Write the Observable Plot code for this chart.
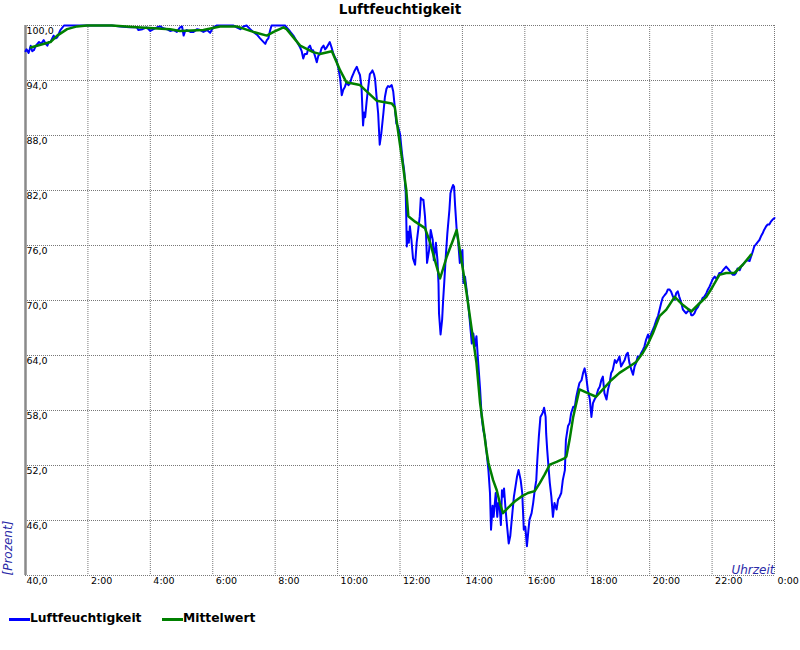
<!DOCTYPE html>
<html>
<head>
<meta charset="utf-8">
<script src="https://cdn.jsdelivr.net/npm/d3@7"></script>
<script src="https://cdn.jsdelivr.net/npm/@observablehq/plot@0.6"></script>
<style>
  html, body { margin: 0; padding: 0; background: #fff; }
  #wrap { position: relative; width: 800px; height: 650px; font-family: "DejaVu Sans", sans-serif; }
  #title { height: 18px; line-height: 18px; text-align: center; font-weight: bold; font-size: 13.5px; color: #000; }
  #chart svg { display: block; }
  .lg-sw { position: absolute; height: 3px; width: 21px; }
  .lg-tx { position: absolute; font-weight: bold; font-size: 12.3px; line-height: 14px; color: #000; white-space: nowrap; }
</style>
</head>
<body>
<div id="wrap">
  <div id="title">Luftfeuchtigkeit</div>
  <div id="chart"></div>
  <div id="legend"></div>
</div>
<script>
// ---- Data (minutes since midnight, relative humidity %) ----
const blueMinutes = [0,2,6,10,13,16,20,26,30,35,39,42,45,48,54,58,61,67,74,120,166,182,200,214,217,225,233,240,246,253,259,265,272,278,285,291,297,301,304,307,310,317,323,330,336,342,349,355,361,368,400,406,413,419,425,432,438,445,451,456,461,464,467,470,473,499,502,508,515,521,528,531,534,537,541,544,547,550,553,557,560,563,566,569,573,576,579,582,585,589,592,595,598,602,605,608,611,614,617,621,624,627,630,633,637,640,643,646,649,651,653,656,659,662,665,667,670,672,675,678,681,684,688,691,694,697,700,704,707,710,713,716,720,723,726,728,730,731,732,733,735,737,739,742,745,749,752,755,758,760,763,765,768,770,772,776,779,783,785,789,792,794,795,798,801,803,805,808,811,815,817,820,822,824,826,829,832,835,838,840,842,845,848,851,854,858,861,864,867,870,874,877,880,883,886,890,893,895,898,900,904,907,909,912,914,916,918,920,923,926,929,932,936,939,942,945,948,952,955,958,961,964,967,969,973,976,979,982,984,987,990,994,997,1000,1001,1003,1006,1008,1011,1014,1017,1021,1024,1027,1030,1033,1037,1039,1043,1046,1049,1053,1056,1059,1062,1065,1069,1072,1075,1078,1081,1085,1088,1091,1094,1097,1101,1104,1107,1110,1113,1117,1120,1123,1126,1129,1133,1136,1139,1142,1145,1149,1152,1155,1158,1161,1165,1168,1171,1174,1177,1181,1184,1187,1190,1193,1197,1200,1203,1206,1209,1213,1216,1219,1222,1225,1229,1232,1235,1238,1241,1245,1248,1251,1254,1257,1261,1264,1267,1270,1273,1277,1280,1283,1286,1289,1293,1296,1299,1302,1305,1309,1312,1315,1318,1321,1325,1328,1331,1334,1337,1341,1344,1347,1350,1353,1357,1360,1363,1366,1369,1373,1376,1379,1382,1385,1388,1392,1395,1398,1401,1404,1408,1411,1414,1417,1420,1424,1427,1430,1433,1436,1440];
const blueValues = [97.2,97.4,97.0,97.8,97.2,97.3,97.8,98.2,98.0,98.4,98.0,97.8,98.2,98.2,98.9,98.6,98.7,99.5,100.0,100.0,100.0,99.9,99.8,99.8,99.5,99.6,99.8,99.4,99.6,99.8,99.9,99.7,99.6,99.4,99.5,99.3,99.8,99.9,98.9,99.4,99.5,99.3,99.3,99.6,99.5,99.3,99.5,99.2,99.8,100.0,100.0,99.8,99.6,99.9,100.0,99.6,99.3,99.0,98.6,98.3,98.0,98.4,98.6,99.4,100.0,100.0,99.8,99.4,98.9,98.3,97.6,97.2,96.4,96.9,96.9,97.6,97.8,97.3,97.3,96.6,96.0,96.7,96.9,97.5,97.8,97.4,97.6,97.9,98.2,97.5,96.9,96.5,96.2,95.2,94.2,92.4,93.0,93.3,93.8,93.5,93.7,94.3,94.7,95.1,95.5,95.0,94.6,93.3,89.1,90.5,90.0,91.8,93.3,94.7,94.9,95.1,94.7,94.2,92.2,90.4,87.0,88.2,90.4,92.2,93.1,93.4,93.3,93.5,92.8,91.1,89.3,89.0,88.2,86.5,85.0,84.2,82.5,81.7,79.2,75.9,77.5,76.3,78.1,76.6,74.6,73.9,76.3,77.7,79.2,81.2,81.0,81.0,79.2,77.3,74.1,75.5,77.7,76.6,74.4,76.3,74.4,71.9,68.6,66.3,67.9,70.1,71.9,74.8,77.3,79.9,81.7,82.3,82.6,82.4,80.3,77.7,76.3,74.1,75.0,75.5,71.9,72.6,71.2,69.7,67.9,65.3,66.4,65.0,66.1,63.5,60.3,57.3,55.9,55.2,53.7,51.5,49.0,45.0,47.6,46.4,49.0,46.4,47.9,47.2,45.5,49.3,48.6,49.5,47.2,45.3,43.5,44.3,46.8,48.6,49.7,50.8,51.5,50.4,49.0,45.0,45.3,43.2,45.0,46.1,46.8,47.9,49.3,50.4,52.6,55.2,57.3,57.7,58.3,57.3,55.5,53.7,51.5,50.1,48.6,46.4,47.9,47.2,48.3,48.6,49.0,50.4,51.5,54.8,56.3,56.6,57.7,58.4,58.4,59.5,60.3,61.0,61.3,62.1,62.6,61.7,60.3,59.2,57.3,58.8,59.2,59.5,60.3,60.6,61.3,61.7,59.9,59.2,60.3,61.0,62.1,62.4,63.5,63.2,63.5,63.9,62.8,63.2,63.5,64.1,64.3,63.2,62.4,61.9,62.8,63.2,63.9,63.9,64.3,64.6,65.0,65.7,66.3,65.7,66.4,66.8,67.2,67.9,68.3,69.0,69.7,70.3,70.6,70.8,71.2,71.2,71.0,70.4,70.1,70.8,71.0,70.4,69.7,69.0,68.8,68.6,68.8,69.0,68.4,68.4,68.6,69.0,69.3,69.7,69.9,70.3,70.4,70.8,71.2,71.5,71.9,72.3,72.6,72.4,72.6,73.0,73.0,73.3,73.5,73.7,73.5,73.3,73.0,72.8,72.8,73.0,73.5,73.3,73.7,73.9,74.1,74.3,74.4,74.3,74.8,75.3,75.9,76.1,76.4,76.6,77.0,77.3,77.7,78.1,78.3,78.3,78.6,78.8,79.0];

const greenMinutes = [10,29,48,61,80,99,118,166,214,278,297,342,374,406,438,464,477,496,502,528,553,566,589,605,617,643,675,704,710,716,726,732,736,749,768,778,787,797,810,822,829,835,842,848,858,867,874,880,886,890,899,906,912,918,928,941,953,966,979,989,998,1008,1021,1037,1040,1046,1053,1059,1065,1081,1097,1110,1126,1142,1161,1174,1187,1197,1206,1219,1232,1248,1264,1280,1296,1309,1321,1334,1347,1363,1379,1395];
const greenValues = [97.6,97.9,98.2,98.9,99.6,99.9,100.0,100.0,99.8,99.6,99.4,99.5,99.9,99.9,99.3,98.9,99.3,99.8,99.6,97.8,97.1,96.9,97.2,95.1,93.8,93.5,91.8,91.5,91.1,88.6,84.6,82.1,79.2,78.6,77.9,76.3,74.4,72.4,74.8,76.6,77.7,75.5,73.0,70.8,66.8,63.2,58.8,56.3,53.7,52.3,50.4,49.3,47.9,46.8,47.4,48.1,48.6,49.0,49.2,50.1,51.0,52.1,52.4,52.8,53.0,54.8,57.3,58.8,60.3,59.9,59.5,60.3,61.3,62.1,62.8,63.3,64.3,65.3,66.4,68.3,69.0,70.4,69.5,68.8,69.7,70.4,71.5,72.8,73.0,73.0,73.9,75.0];

const yTicks = [40,46,52,58,64,70,76,82,88,94,100];
const xTicks = [2,4,6,8,10,12,14,16,18,20,22,24];
const seriesNames = ["Luftfeuchtigkeit", "Mittelwert"];
const seriesColors = ["#0000ff", "#008000"];
const yTitle = "[Prozent]";
const xTitle = "Uhrzeit";

// ---- Build tables ----
const blue = blueMinutes.map((m, i) => ({t: m / 60, v: blueValues[i]}));
const green = greenMinutes.map((m, i) => ({t: m / 60, v: greenValues[i]}));
const fmtY = d => d.toFixed(1).replace(".", ",");
const fmtX = d => `${d % 24}:00`;

const chart = Plot.plot({
  width: 800,
  height: 580,
  marginTop: 7,
  marginLeft: 25,
  marginRight: 26,
  marginBottom: 23,
  x: {domain: [0, 24], axis: null},
  y: {domain: [40, 100], axis: null},
  style: {fontFamily: "DejaVu Sans", fontSize: "9.5px", background: "#fff", overflow: "visible", color: "#000"},
  marks: [
    Plot.gridY(yTicks, {stroke: "#777", strokeOpacity: 1, strokeDasharray: "1,1"}),
    Plot.gridX(xTicks, {stroke: "#777", strokeOpacity: 1, strokeDasharray: "1,1"}),
    Plot.ruleX([0], {stroke: "#8a8a8a", strokeWidth: 2.5}),
    Plot.line(blue, {x: "t", y: "v", stroke: seriesColors[0], strokeWidth: 2}),
    Plot.line(green, {x: "t", y: "v", stroke: seriesColors[1], strokeWidth: 2.5}),
    Plot.text(yTicks, {x: 0, y: d => d, text: fmtY, textAnchor: "start", lineAnchor: "top", dx: 1, dy: 2, fill: "#000"}),
    Plot.text(xTicks, {x: d => d, y: 40, text: fmtX, textAnchor: "start", lineAnchor: "top", dx: 3, dy: 2, fill: "#000"}),
    Plot.text([xTitle], {frameAnchor: "bottom-right", textAnchor: "end", lineAnchor: "bottom", dy: -2, fontSize: 12, fontStyle: "italic", fill: "#2a2aa8"}),
    Plot.text([yTitle], {frameAnchor: "bottom-left", textAnchor: "start", lineAnchor: "middle", rotate: -90, dx: -17, fontSize: 12, fontStyle: "italic", fill: "#2a2aa8"})
  ]
});
document.getElementById("chart").appendChild(chart);

// ---- Legend (HTML, below the chart) ----
const legend = document.getElementById("legend");
const legendPos = [{sw: 9, tx: 30}, {sw: 162, tx: 183}];
seriesNames.forEach((name, i) => {
  const sw = document.createElement("div");
  sw.className = "lg-sw";
  sw.style.left = legendPos[i].sw + "px";
  sw.style.top = "618px";
  sw.style.background = seriesColors[i];
  legend.appendChild(sw);
  const tx = document.createElement("div");
  tx.className = "lg-tx";
  tx.style.left = legendPos[i].tx + "px";
  tx.style.top = "611px";
  tx.textContent = name;
  legend.appendChild(tx);
});
</script>
</body>
</html>
